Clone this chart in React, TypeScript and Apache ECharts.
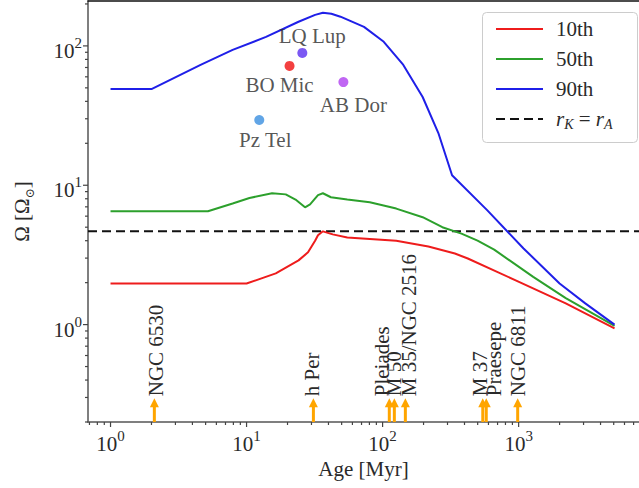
import { useEffect, useRef } from 'react';
import * as echarts from 'echarts';

// ---- axis limits ----
const X_MIN = 0.683;
const X_MAX = 7670;
const Y_MIN = 0.2;
const Y_MAX = 210;

// ---- rotation tracks [age Myr, Omega] ----
const pct10: [number, number][] = [
  [1, 1.97], [10, 1.97], [16.4, 2.33], [24.1, 2.89], [28.3, 3.3], [31.9, 4.0], [33.5, 4.37],
  [36.4, 4.67], [43, 4.44], [55, 4.22], [126, 4.0], [217, 3.64], [340, 3.24], [423, 2.98],
  [960, 2.07], [2220, 1.42], [5070, 0.94],
];
const pct50: [number, number][] = [
  [1, 6.5], [5.2, 6.5], [7.9, 7.4], [10.5, 8.1], [15.4, 8.76], [19.4, 8.6], [22.9, 7.9],
  [26.9, 6.95], [29.3, 7.3], [33.5, 8.5], [36.4, 8.76], [41.7, 8.2], [55, 7.9], [80.5, 7.55],
  [126, 6.8], [197, 5.9], [275, 5.0], [380, 4.5], [499, 4.0], [661, 3.45], [1280, 2.2],
  [2220, 1.55], [5070, 0.98],
];
const pct90: [number, number][] = [
  [1, 49], [2, 49], [4.59, 73], [7.9, 93.6], [13.9, 116], [24.1, 149], [31.9, 167], [36.4, 173],
  [42, 170], [49, 162], [73, 137], [102, 107], [142, 73], [197, 43], [257, 23.7], [324, 11.8],
  [589, 6.6], [1087, 3.52], [2000, 1.97], [3090, 1.42], [5070, 1.0],
];
const omegaRkRa = 4.67;

// ---- individual stars ----
const starNames = ['LQ Lup', 'BO Mic', 'AB Dor', 'Pz Tel'];
const starAges = [25.7, 20.7, 51.5, 12.4];
const starOmegas = [89, 71.8, 55, 29.4];

// ---- clusters ----
const clusterNames = ['NGC 6530', 'h Per', 'Pleiades', 'M 50', 'M 35/NGC 2516', 'M 37', 'Praesepe', 'NGC 6811'];
const clusterAges = [2.1, 31, 112, 122, 147, 545, 578, 984];

// ---- tick values ----
const xMajorTicks = [1, 10, 100, 1000];
const xMinorTicks = [0.7, 0.8, 0.9, 2, 3, 4, 5, 6, 7, 8, 9, 20, 30, 40, 50, 60, 70, 80, 90,
  200, 300, 400, 500, 600, 700, 800, 900, 2000, 3000, 4000, 5000, 6000, 7000];
const yMajorTicks = [1, 10, 100];
const yMinorTicks = [0.2, 0.3, 0.4, 0.5, 0.6, 0.7, 0.8, 0.9, 2, 3, 4, 5, 6, 7, 8, 9,
  20, 30, 40, 50, 60, 70, 80, 90, 200];

// ---- styles ----
const FONT = 'Liberation Serif';
const TXT = '#2a2a2a';
const ORANGE = '#ffa500';
const starColors = ['#5a2ef0', '#f01010', '#b040f0', '#3a8ee0'];
const starLabelOffsets = [[10, -17], [-10, 19], [10, 23], [6, 20]];
const clusterLabelDx = [2, -1, -7, 0, 4, -3, 8, 0];
const ARROW_TIP = 0.296;

const supRich = {
  b: { fontSize: 21, lineHeight: 26, fontFamily: FONT, color: TXT, verticalAlign: 'bottom' },
  s: { fontSize: 15, lineHeight: 15, fontFamily: FONT, color: TXT, verticalAlign: 'top' },
};

const tickFormatter = (v: number) => {
  const l = Math.log10(v);
  const e = Math.round(l);
  if (Math.abs(l - e) > 1e-6) return '';
  return `{b|10}{s|${e}}`;
};

function tickSeries(values: number[], axis: 'x' | 'y', len: number) {
  return {
    type: 'custom',
    silent: true,
    z: 10,
    data: values.map((v) => (axis === 'x' ? [v, Y_MIN] : [X_MIN, v])),
    renderItem: (_p: any, api: any) => {
      const p = api.coord([api.value(0), api.value(1)]);
      return axis === 'x'
        ? { type: 'line', shape: { x1: p[0], y1: p[1], x2: p[0], y2: p[1] + len }, style: { stroke: '#444', lineWidth: 1.2 } }
        : { type: 'line', shape: { x1: p[0], y1: p[1], x2: p[0] - len, y2: p[1] }, style: { stroke: '#444', lineWidth: 1.2 } };
    },
  };
}

export default function App() {
  const ref = useRef<HTMLDivElement>(null);
  useEffect(() => {
    const chart = echarts.init(ref.current!, null, { renderer: 'svg' });
    const logAxisBase = { type: 'log', logBase: 10, min: X_MIN, max: X_MAX };
    const option: any = {
      animation: false,
      backgroundColor: '#fff',
      textStyle: { fontFamily: FONT },
      grid: { left: 85, top: 1, right: -9, bottom: 66 },
      xAxis: [
        {
          ...logAxisBase,
          position: 'bottom',
          name: 'Age [Myr]',
          nameLocation: 'middle',
          nameGap: 34,
          nameTextStyle: { fontFamily: FONT, fontSize: 21, color: TXT },
          axisLine: { show: true, lineStyle: { color: '#555', width: 1.5 } },
          axisTick: { show: false },
          splitLine: { show: false },
          axisLabel: { margin: 6, showMinLabel: false, showMaxLabel: false, formatter: tickFormatter, rich: supRich },
        },
        {
          ...logAxisBase,
          position: 'top',
          axisLine: { show: true, lineStyle: { color: '#111', width: 1.5 } },
          axisTick: { show: false },
          axisLabel: { show: false },
          splitLine: { show: false },
        },
      ],
      yAxis: {
        type: 'log',
        logBase: 10,
        min: Y_MIN,
        max: Y_MAX,
        name: 'Ω [Ω{s|⊙}]',
        nameLocation: 'middle',
        nameGap: 52,
        nameRotate: 90,
        nameTextStyle: {
          fontFamily: FONT, fontSize: 21, color: TXT, lineHeight: 28,
          rich: { s: { fontFamily: 'DejaVu Serif', fontSize: 12, lineHeight: 12, color: TXT, verticalAlign: 'bottom' } },
        },
        axisLine: { show: true, lineStyle: { color: '#555', width: 1.5 } },
        axisTick: { show: false },
        splitLine: { show: false },
        axisLabel: { margin: 6, padding: [5, 0, 0, 0], showMinLabel: false, showMaxLabel: false, formatter: tickFormatter, rich: supRich },
      },
      legend: {
        data: ['10th', '50th', '90th', 'rKrA'],
        orient: 'vertical',
        left: 490,
        top: 12,
        itemWidth: 47,
        itemHeight: 14,
        itemGap: 6,
        z: 60,
        selectedMode: false,
        itemStyle: { opacity: 0 },
        textStyle: { fontFamily: FONT, fontSize: 21, color: TXT, lineHeight: 24, padding: [0, 0, 0, 8],
          rich: {
            i: { fontFamily: FONT, fontStyle: 'italic', fontSize: 21, lineHeight: 24, color: TXT },
            k: { fontFamily: FONT, fontStyle: 'italic', fontSize: 14, lineHeight: 14, color: TXT, verticalAlign: 'bottom' },
            n: { fontFamily: FONT, fontSize: 21, lineHeight: 24, color: TXT },
          } },
        formatter: (name: string) => (name === 'rKrA' ? '{i|r}{k|K}{n| = }{i|r}{k|A}' : name),
      },
      graphic: [
        {
          type: 'rect', left: 482, top: 12, z: 50,
          shape: { width: 155, height: 130, r: 4 },
          style: { fill: 'rgba(255,255,255,0.85)', stroke: '#cccccc', lineWidth: 1 },
        },
      ],
      series: [
        { name: '10th', type: 'line', data: pct10, symbol: 'none', lineStyle: { color: '#ee1c1c', width: 2 }, itemStyle: { color: '#ee1c1c' }, z: 3 },
        { name: '50th', type: 'line', data: pct50, symbol: 'none', lineStyle: { color: '#2ca02c', width: 2 }, itemStyle: { color: '#2ca02c' }, z: 3 },
        { name: '90th', type: 'line', data: pct90, symbol: 'none', lineStyle: { color: '#1f1fe8', width: 2 }, itemStyle: { color: '#1f1fe8' }, z: 3 },
        {
          name: 'rKrA', type: 'line', symbol: 'none', z: 2,
          data: [[X_MIN, omegaRkRa], [X_MAX, omegaRkRa]],
          lineStyle: { color: '#111', width: 2, type: [9, 5] }, itemStyle: { color: '#111' },
        },
        {
          name: 'stars', type: 'scatter', symbolSize: 10, z: 5,
          data: starNames.map((n, i) => ({
            name: n,
            value: [starAges[i], starOmegas[i]],
            itemStyle: { color: starColors[i] },
            label: { offset: starLabelOffsets[i] },
          })),
          label: { show: true, position: 'inside', formatter: '{b}', fontFamily: FONT, fontSize: 21, color: TXT },
        },
        {
          name: 'clusters', type: 'custom', silent: true, z: 6,
          data: clusterAges.map((a) => [a, ARROW_TIP]),
          renderItem: (params: any, api: any) => {
            const i = params.dataIndex;
            const age = api.value(0);
            const b = api.coord([age, Y_MIN]);
            const t = api.coord([age, api.value(1)]);
            return {
              type: 'group',
              children: [
                { type: 'line', shape: { x1: b[0], y1: b[1], x2: t[0], y2: t[1] + 8 }, style: { stroke: ORANGE, lineWidth: 3 } },
                { type: 'polygon', shape: { points: [[t[0], t[1]], [t[0] - 4.5, t[1] + 9], [t[0] + 4.5, t[1] + 9]] }, style: { fill: ORANGE } },
                {
                  type: 'text', x: t[0] + clusterLabelDx[i], y: t[1] - 2, rotation: Math.PI / 2,
                  style: { text: clusterNames[i], fontFamily: FONT, fontSize: 21, fill: TXT, align: 'left', verticalAlign: 'middle' },
                },
              ],
            };
          },
        },
        tickSeries(xMajorTicks, 'x', 5),
        tickSeries(xMinorTicks, 'x', 3),
        tickSeries(yMajorTicks, 'y', 5),
        tickSeries(yMinorTicks, 'y', 3),
      ],
    };
    chart.setOption(option);
    return () => chart.dispose();
  }, []);
  return <div ref={ref} style={{ position: 'fixed', left: 0, top: 0, width: 639, height: 488, background: '#fff' }} />;
}
